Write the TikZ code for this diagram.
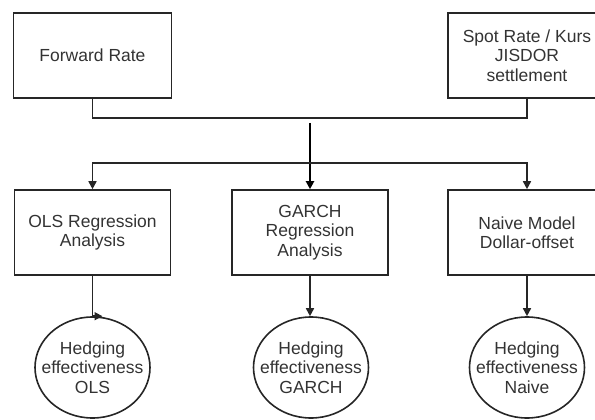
\documentclass[tikz,border=0pt]{standalone}
\usepackage{fontspec}
\setmainfont{Liberation Sans}
\usepackage{tikz}
\usetikzlibrary{positioning,arrows.meta,shapes.geometric,calc}
\tikzset{
  he arrow/.style={-{Triangle[length=8pt,width=8pt]},line width=1.6pt,black!85},
  he line/.style={line width=1.6pt,black!85},
  he feed/.style={he arrow,line width=2.6pt,black},
  he box/.style={draw=black!85,line width=1.6pt,rectangle,
    minimum width=158pt,minimum height=85pt,inner sep=2pt,align=center,
    font=\fontsize{17.5}{19.5}\selectfont,text=black!80},
  he result/.style={draw=black!85,line width=1.6pt,ellipse,
    minimum width=115pt,minimum height=101pt,inner ysep=0pt,inner xsep=-16pt,
    align=center,font=\fontsize{17.5}{19.5}\selectfont,text=black!80}
}

\begin{document}
\begin{tikzpicture}[x=1pt,y=-1pt]
  \useasboundingbox (0,0) rectangle (595,420);
  % Inputs.
  \node[he box] (fwd) at (92.5,55.5) {Forward Rate};
  \node[he box] (spot) at (527,55.5) {Spot Rate / Kurs\\JISDOR\\settlement};

  % Models.
  \node[he box,minimum width=156pt] (ols) at (92.5,232.5) {OLS Regression\\Analysis};
  \node[he box,minimum width=156pt] (garch) at (310,232.5) {GARCH\\Regression\\Analysis};
  \node[he box] (naive) at (527,232.5) {Naive Model\\Dollar-offset};

  % Results.
  \node[he result] (olsres) at (92.5,367.5) {Hedging\\effectiveness\\OLS};
  \node[he result] (garchres) at (311,367.5) {Hedging\\effectiveness\\GARCH};
  \node[he result] (naiveres) at (527,367.5) {Hedging\\effectiveness\\Naive};

  % Busses.
  \coordinate (topbus) at (310,118);
  \coordinate (feed) at (310,123);
  \coordinate (lowbus) at (310,163);
  \draw[he line] (fwd.south) |- (topbus) -| (spot.south);
  \draw[he feed] (feed) -- (garch.north);
  \draw[he arrow] (lowbus) -| (ols.north);
  \draw[he arrow] (lowbus) -| (naive.north);

  \draw[he arrow] (ols.south) -- (olsres.north) -- ++(10,0);
  \draw[he arrow] (garch.south) -- (garchres.north -| garch.south);
  \draw[he arrow] (naive.south) -- (naiveres.north);
\end{tikzpicture}
\end{document}
